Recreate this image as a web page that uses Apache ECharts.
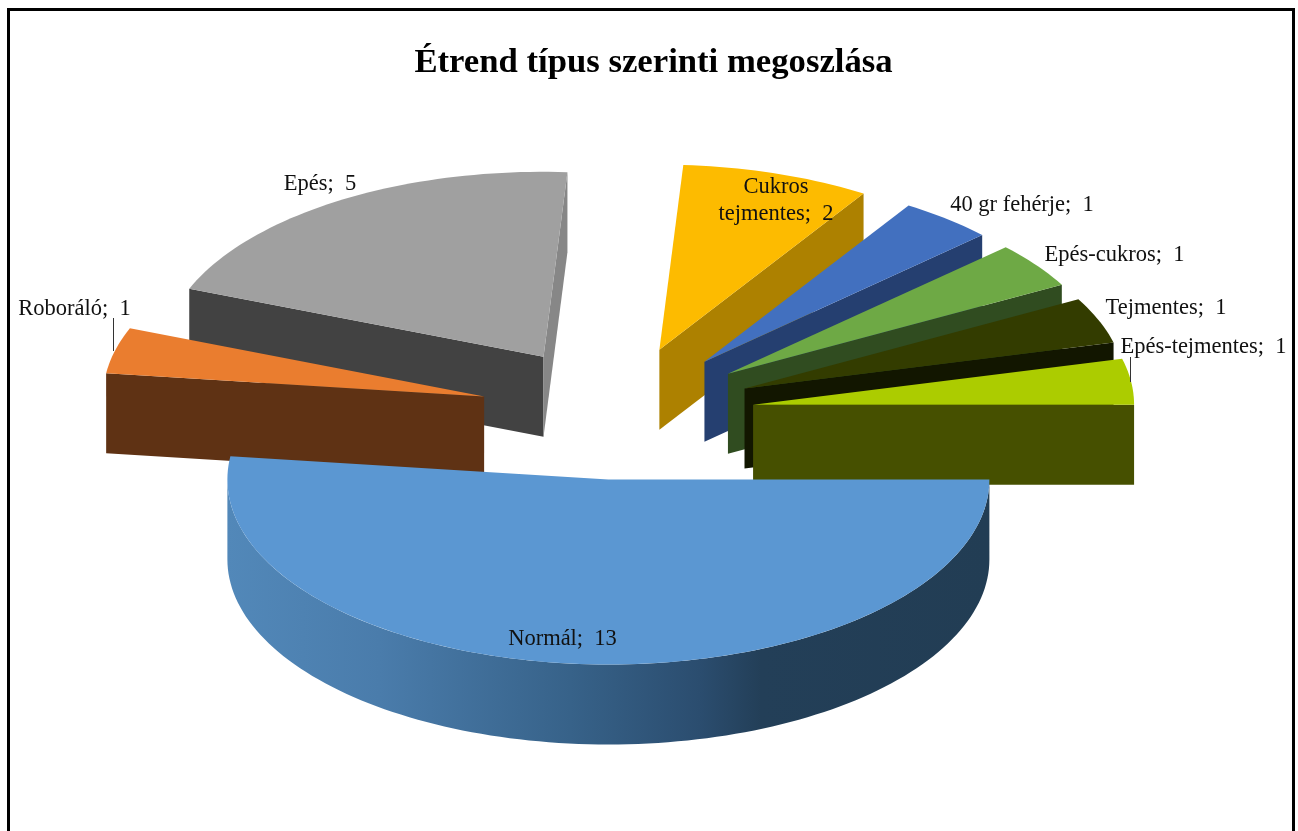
<!DOCTYPE html>
<html>
<head>
<meta charset="utf-8">
<style>html,body{margin:0;padding:0;background:#fff}#c{width:1298px;height:831px}</style>
<script src="https://cdn.jsdelivr.net/npm/echarts@6/dist/echarts.min.js"></script>
</head>
<body>
<div id="c"></div>
<script>
// ---- data ----
const titleText = 'Étrend típus szerinti megoszlása';
const categories = ['Normál', 'Roboráló', 'Epés', 'Cukros tejmentes', '40 gr fehérje', 'Epés-cukros', 'Tejmentes', 'Epés-tejmentes'];
const values = [13, 1, 5, 2, 1, 1, 1, 1];

// ---- styles ----
const topColors = ['#5b97d2', '#ea7d2f', '#a0a0a0', '#fdbb00', '#4270bf', '#6ea945', '#333c00', '#accc00'];
const wallStart = ['#223d54', '#5f3214', '#424242', '#ad8100', '#253f70', '#304c20', '#121600', '#465000'];
const wallEnd   = ['#223d54', '#5f3214', '#878787', '#ad8100', '#253f70', '#304c20', '#121600', '#465000'];
const normalGradient = [
  {offset: 0, color: '#5288b9'}, {offset: 0.2, color: '#4a7cab'}, {offset: 0.45, color: '#376289'},
  {offset: 0.62, color: '#2b4d6f'}, {offset: 0.7, color: '#233f58'}, {offset: 1, color: '#223d54'}
];

// ---- layout (projection of the unit pie on to the page) ----
const W = 1298, H = 831;
const cx = 617, cy = 413, rx = 381, ry = 185, depthPx = 80;
const explosion = 0.36;
const depth = depthPx / ry;
// label centre positions, page pixels, in category order
const labelPos = [[562.5, 639], [74.5, 309], [320, 184], [776, 201], [1022, 205], [1114.5, 255], [1166, 308], [1203.5, 347]];
const labelLines = [null, [[113, 318], [113, 351]], null, null, null, null, null, [[1130, 357], [1130, 382]]];

const total = values.reduce((a, b) => a + b, 0);
// slices run clockwise from east
let acc = 0;
const slices = values.map((v, i) => {
  const a0 = acc / total * 2 * Math.PI;
  acc += v;
  const a1 = acc / total * 2 * Math.PI;
  const mid = (a0 + a1) / 2;
  return {i, a0, a1, mid, ox: explosion * Math.cos(mid), oy: -explosion * Math.sin(mid)};
});
// paint from the back of the pie to the front
const order = slices.slice().sort((p, q) => q.oy - p.oy).map(s => s.i);

function renderItem(params, api) {
  const s = slices[api.value(0)];
  const pt = (a, d) => api.coord([s.ox + Math.cos(a), s.oy - Math.sin(a) - (d || 0)]);
  const apex = d => api.coord([s.ox, s.oy - (d || 0)]);
  const children = [];

  // a straight wall faces the viewer when the wedge lies above its edge
  function radialWall(a, color) {
    const px = Math.cos(a), py = -Math.sin(a);
    const bx = Math.cos(s.mid), by = -Math.sin(s.mid);
    const inner = px * by - py * bx, down = -px;
    if (inner * down < 0) {
      children.push({type: 'polygon', shape: {points: [apex(0), pt(a, 0), pt(a, depth), apex(depth)]},
        style: {fill: color}});
    }
  }
  radialWall(s.a0, wallStart[s.i]);
  radialWall(s.a1, wallEnd[s.i]);

  // curved outer wall: only the front half of the circle
  const from = Math.max(s.a0, 0), to = Math.min(s.a1, Math.PI);
  if (to > from) {
    const upper = [], lower = [];
    const n = 120;
    for (let k = 0; k <= n; k++) {
      const a = from + (to - from) * k / n;
      upper.push(pt(a, 0));
      lower.unshift(pt(a, depth));
    }
    children.push({type: 'polygon', shape: {points: upper.concat(lower)},
      style: {fill: {type: 'linear', x: 0, y: 0, x2: 1, y2: 0, colorStops: normalGradient}}});
  }

  // top face
  const face = [apex(0)];
  const steps = Math.max(8, Math.ceil((s.a1 - s.a0) * 40));
  for (let k = 0; k <= steps; k++) face.push(pt(s.a0 + (s.a1 - s.a0) * k / steps, 0));
  children.push({type: 'polygon', shape: {points: face}, style: {fill: topColors[s.i]}});

  // leader line and data label
  const line = labelLines[s.i];
  if (line) {
    children.push({type: 'line', z2: 90,
      shape: {x1: line[0][0] + 0.5, y1: line[0][1], x2: line[1][0] + 0.5, y2: line[1][1]},
      style: {stroke: '#333', lineWidth: 1}});
  }
  const pos = labelPos[s.i];
  const name = categories[s.i];
  const text = (name === 'Cukros tejmentes' ? 'Cukros\ntejmentes' : name) + ';  ' + values[s.i];
  children.push({type: 'text', z2: 100, x: pos[0], y: pos[1], style: {
    text, fill: '#111', font: '22.5px "Liberation Serif"', lineHeight: 27, align: 'center', verticalAlign: 'middle'}});

  return {type: 'group', children};
}

const chart = echarts.init(document.getElementById('c'), null, {renderer: 'canvas'});
chart.setOption({
  animation: false,
  backgroundColor: '#ffffff',
  title: {text: titleText, left: 648.5, top: 41, textAlign: 'center',
    textStyle: {fontFamily: 'Liberation Serif', fontWeight: 'bold', fontSize: 34.7, color: '#000'}},
  graphic: [{type: 'rect', z: -1, shape: {x: 8.5, y: 9.5, width: 1285, height: 900},
    style: {fill: 'none', stroke: '#000', lineWidth: 3}, silent: true}],
  grid: {left: 0, right: 0, top: 0, bottom: 0},
  xAxis: {type: 'value', show: false, min: -cx / rx, max: (W - cx) / rx},
  yAxis: {type: 'value', show: false, min: -(H - cy) / ry, max: cy / ry},
  series: [{
    type: 'custom',
    coordinateSystem: 'cartesian2d',
    renderItem,
    clip: false,
    silent: true,
    encode: {x: 1, y: 2},
    data: order.map(i => [i, slices[i].ox, slices[i].oy])
  }]
});
</script>
</body>
</html>
